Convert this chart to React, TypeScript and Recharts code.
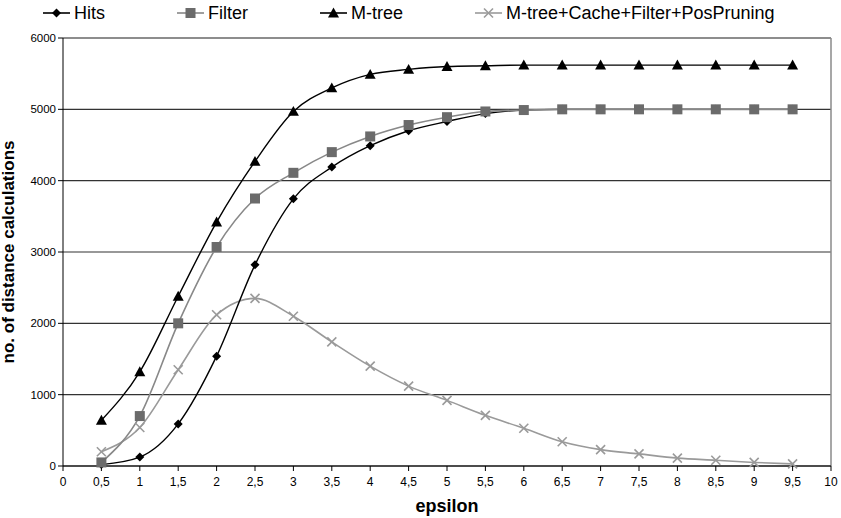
import React from 'react';
import { LineChart, Line, XAxis, YAxis, CartesianGrid, ReferenceLine } from 'recharts';

const epsilon = [0.5, 1, 1.5, 2, 2.5, 3, 3.5, 4, 4.5, 5, 5.5, 6, 6.5, 7, 7.5, 8, 8.5, 9, 9.5];
const hits = [20, 125, 590, 1540, 2820, 3745, 4190, 4490, 4700, 4830, 4940, 4990, 5000, 5000, 5000, 5000, 5000, 5000, 5000];
const filter = [50, 700, 2000, 3070, 3750, 4110, 4400, 4620, 4780, 4890, 4970, 4990, 5000, 5000, 5000, 5000, 5000, 5000, 5000];
const mtree = [640, 1320, 2380, 3420, 4270, 4970, 5300, 5490, 5560, 5600, 5610, 5620, 5620, 5620, 5620, 5620, 5620, 5620, 5620];
const cached = [200, 540, 1350, 2120, 2350, 2100, 1740, 1400, 1120, 920, 710, 530, 340, 230, 170, 110, 80, 50, 30];

const xTicks = [0, 0.5, 1, 1.5, 2, 2.5, 3, 3.5, 4, 4.5, 5, 5.5, 6, 6.5, 7, 7.5, 8, 8.5, 9, 9.5, 10];
const yTicks = [0, 1000, 2000, 3000, 4000, 5000, 6000];

const data = epsilon.map((e, i) => ({ e, hits: hits[i], filter: filter[i], mtree: mtree[i], cached: cached[i] }));

const FONT = 'Liberation Sans, Arial, sans-serif';

const Diamond = (props: any) => {
  const { cx, cy } = props;
  if (cx == null || cy == null) return null;
  const s = 4.5;
  return <polygon points={`${cx},${cy - s} ${cx + s},${cy} ${cx},${cy + s} ${cx - s},${cy}`} fill="#000" />;
};
const Square = (props: any) => {
  const { cx, cy } = props;
  if (cx == null || cy == null) return null;
  const s = 5;
  return <rect x={cx - s} y={cy - s} width={2 * s} height={2 * s} fill="#6b6b6b" />;
};
const Triangle = (props: any) => {
  const { cx, cy } = props;
  if (cx == null || cy == null) return null;
  const s = 5.5;
  return <polygon points={`${cx},${cy - s} ${cx + s},${cy + s * 0.8} ${cx - s},${cy + s * 0.8}`} fill="#000" />;
};
const Cross = (props: any) => {
  const { cx, cy } = props;
  if (cx == null || cy == null) return null;
  const s = 4.5;
  return (
    <g stroke="#9a9a9a" strokeWidth={1.6}>
      <line x1={cx - s} y1={cy - s} x2={cx + s} y2={cy + s} />
      <line x1={cx - s} y1={cy + s} x2={cx + s} y2={cy - s} />
    </g>
  );
};

const LegendItem = ({ left, color, label, marker }: any) => (
  <div style={{ position: 'absolute', left, top: 2, height: 22, display: 'flex', alignItems: 'center', fontFamily: FONT, fontSize: 18, color: '#000', whiteSpace: 'nowrap' }}>
    <svg width={27} height={20} style={{ marginRight: 4 }}>
      <line x1={0} y1={10} x2={27} y2={10} stroke={color} strokeWidth={1.6} />
      {marker === 'diamond' && <Diamond cx={13.5} cy={10} />}
      {marker === 'square' && <Square cx={13.5} cy={10} />}
      {marker === 'triangle' && <Triangle cx={13.5} cy={10} />}
      {marker === 'cross' && <Cross cx={13.5} cy={10} />}
    </svg>
    <span>{label}</span>
  </div>
);

export default function App() {
  return (
    <div style={{ position: 'absolute', left: 0, top: 0, width: 841, height: 518, background: '#fff' }}>
      <LegendItem left={43} color="#000" label="Hits" marker="diamond" />
      <LegendItem left={177} color="#888" label="Filter" marker="square" />
      <LegendItem left={320} color="#000" label="M-tree" marker="triangle" />
      <LegendItem left={475} color="#9a9a9a" label="M-tree+Cache+Filter+PosPruning" marker="cross" />
      <LineChart width={841} height={518} data={data} margin={{ top: 38, right: 10, bottom: 0, left: 0 }}>
        <CartesianGrid horizontal={true} vertical={false} stroke="#333" strokeWidth={1.2} />
        <ReferenceLine y={6000} stroke="#8a8a8a" strokeWidth={1.5} />
        <ReferenceLine x={10} stroke="#8a8a8a" strokeWidth={1.5} />
        <XAxis
          dataKey="e"
          type="number"
          domain={[0, 10]}
          ticks={xTicks}
          interval={0}
          tickFormatter={(v: number) => String(v).replace('.', ',')}
          stroke="#000"
          tickSize={5}
          tickMargin={6}
          height={52}
          tick={{ fontFamily: FONT, fontSize: 12, fill: '#000' }}
          label={{ value: 'epsilon', position: 'insideBottom', offset: 6, style: { fontFamily: FONT, fontSize: 18, fontWeight: 'bold', fill: '#000' } }}
        />
        <YAxis
          type="number"
          domain={[0, 6000]}
          ticks={yTicks}
          interval={0}
          stroke="#000"
          tickSize={5}
          width={63}
          tick={{ fontFamily: FONT, fontSize: 11.5, fill: '#000' }}
          label={{ value: 'no. of distance calculations', angle: -90, position: 'insideLeft', offset: 8, style: { textAnchor: 'middle', fontFamily: FONT, fontSize: 17, fontWeight: 'bold', fill: '#000' } }}
        />
        <Line type="monotone" dataKey="cached" stroke="#9a9a9a" strokeWidth={1.6} dot={<Cross />} isAnimationActive={false} />
        <Line type="monotone" dataKey="hits" stroke="#000" strokeWidth={1.4} dot={<Diamond />} isAnimationActive={false} />
        <Line type="monotone" dataKey="filter" stroke="#888" strokeWidth={1.6} dot={<Square />} isAnimationActive={false} />
        <Line type="monotone" dataKey="mtree" stroke="#000" strokeWidth={1.4} dot={<Triangle />} isAnimationActive={false} />
      </LineChart>
    </div>
  );
}
